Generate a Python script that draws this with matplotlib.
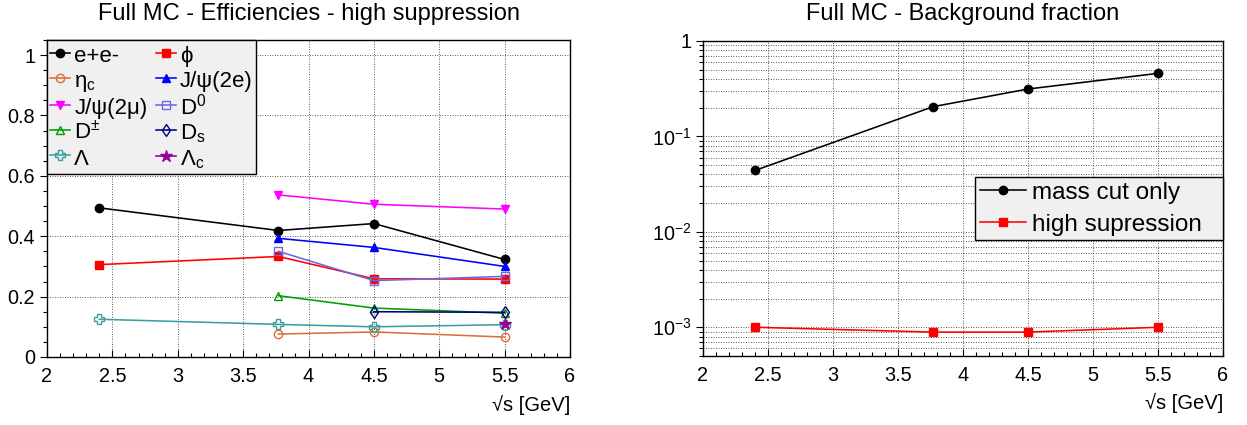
import math
import matplotlib
matplotlib.use("Agg")
import matplotlib.pyplot as plt
from matplotlib.ticker import (MultipleLocator, LogLocator, FuncFormatter,
                               NullFormatter)

plt.rcParams['font.family'] = ['Liberation Sans', 'DejaVu Sans']
plt.rcParams['mathtext.fontset'] = 'custom'
plt.rcParams['mathtext.rm'] = 'Liberation Sans'
plt.rcParams['mathtext.it'] = 'Liberation Sans:italic'
plt.rcParams['mathtext.sf'] = 'Liberation Sans'

# ---- efficiencies (high suppression) vs sqrt(s) ----
x_all = [2.4, 3.77, 4.5, 5.5]
x_charm = [3.77, 4.5, 5.5]
x_ds = [4.5, 5.5]
x_lc = [5.5]

eff_ee = [0.494, 0.419, 0.442, 0.323]
eff_phi = [0.306, 0.333, 0.259, 0.258]
eff_etac = [0.076, 0.083, 0.066]
eff_jpsi_ee = [0.393, 0.363, 0.300]
eff_jpsi_mumu = [0.537, 0.506, 0.490]
eff_d0 = [0.350, 0.253, 0.267]
eff_dpm = [0.203, 0.162, 0.145]
eff_ds = [0.150, 0.148]
eff_lambda = [0.125, 0.108, 0.100, 0.107]
eff_lambdac = [0.110]

# ---- background fraction vs sqrt(s) ----
bkg_masscut = [0.044, 0.205, 0.314, 0.458]
bkg_high = [1.0e-3, 0.89e-3, 0.89e-3, 1.0e-3]

W, H = 1247, 425
fig = plt.figure(figsize=(W / 100, H / 100), dpi=100)

ax1 = fig.add_axes([47 / W, (H - 357) / H, 523 / W, 317 / H])
ax2 = fig.add_axes([703 / W, (H - 356) / H, 520 / W, 315 / H])

LW = 1.15
TICK_FS = 14.3


def series(ax, x, y, color, marker, filled, ms=6.0, label=None):
    fc = color if filled else 'none'
    line, = ax.plot(x, y, color=color, lw=LW, marker=marker, ms=ms,
                    mfc=fc, mec=color, mew=1.0, label=label, zorder=3)
    return line


h_ee = series(ax1, x_all, eff_ee, 'black', 'o', True, label='e+e-')
h_phi = series(ax1, x_all, eff_phi, '#ff0000', 's', True, ms=5.8, label='ϕ')
h_etac = series(ax1, x_charm, eff_etac, '#dd6d3b', 'o', False,
                label=r'$\mathregular{η_{c}}$')
h_jee = series(ax1, x_charm, eff_jpsi_ee, '#0000ff', '^', True,
               label='J/ψ(2e)')
h_jmm = series(ax1, x_charm, eff_jpsi_mumu, '#ff00ff', 'v', True,
               label='J/ψ(2μ)')
h_d0 = series(ax1, x_charm, eff_d0, '#6b6be0', 's', False,
              label=r'$\mathregular{D^{0}}$')
h_dpm = series(ax1, x_charm, eff_dpm, '#00a000', '^', False,
               label=r'$\mathregular{D^{\pm}}$')
h_ds = series(ax1, x_ds, eff_ds, '#000080', 'd', False,
              label=r'$\mathregular{D_{s}}$')
h_lam = series(ax1, x_all, eff_lambda, '#3c9e9e', 'P', False, ms=6.5,
               label='Λ')
h_lamc = series(ax1, x_lc, eff_lambdac, '#990099', '*', True, ms=9,
                label=r'$\mathregular{Λ_{c}}$')

g_mass = series(ax2, x_all, bkg_masscut, 'black', 'o', True,
                label='mass cut only')
g_high = series(ax2, x_all, bkg_high, '#ff0000', 's', True, ms=5.8,
                label='high supression')

grid_kw = dict(color='#222222', lw=0.6, ls=(0, (1, 2)))

# left panel axes
ax1.set_xlim(2, 6)
ax1.set_ylim(0, 1.05)
ax1.xaxis.set_major_locator(MultipleLocator(0.5))
ax1.xaxis.set_minor_locator(MultipleLocator(0.1))
ax1.yaxis.set_major_locator(MultipleLocator(0.2))
ax1.yaxis.set_minor_locator(MultipleLocator(0.05))
fmt = FuncFormatter(lambda v, p: '%g' % round(v, 3))
ax1.xaxis.set_major_formatter(fmt)
ax1.yaxis.set_major_formatter(fmt)
ax1.grid(True, which='major', **grid_kw)
ax1.set_axisbelow(True)

# right panel axes
ax2.set_xlim(2, 6)
ax2.set_yscale('log')
ax2.set_ylim(5e-4, 1)
ax2.xaxis.set_major_locator(MultipleLocator(0.5))
ax2.xaxis.set_minor_locator(MultipleLocator(0.1))
ax2.xaxis.set_major_formatter(fmt)
ax2.yaxis.set_major_locator(LogLocator(base=10, numticks=10))
ax2.yaxis.set_minor_locator(LogLocator(base=10, subs=range(2, 10),
                                       numticks=50))
ax2.yaxis.set_minor_formatter(NullFormatter())


def logfmt(v, p):
    if abs(v - 1) < 1e-9:
        return '1'
    e = int(round(math.log10(v)))
    return r'$\mathregular{10^{%d}}$' % e


ax2.yaxis.set_major_formatter(FuncFormatter(logfmt))
ax2.grid(True, which='major', axis='x', **grid_kw)
ax2.grid(True, which='both', axis='y', **grid_kw)
ax2.set_axisbelow(True)

for ax in (ax1, ax2):
    for s in ax.spines.values():
        s.set_linewidth(1.0)
        s.set_color('black')
    ax.tick_params(axis='x', which='both', direction='in', top=False,
                   labelsize=TICK_FS, pad=7, width=0.8)
    ax.tick_params(axis='y', which='both', direction='out', right=False,
                   labelsize=TICK_FS, pad=3.5, width=0.8)
    ax.tick_params(which='major', length=5)
    ax.tick_params(which='minor', length=2.6)
    ax.text(1.0, -0.15, '√s [GeV]', transform=ax.transAxes, ha='right',
            va='center', fontsize=14.5)

leg_style = dict(frameon=True, fancybox=False, edgecolor='black',
                 facecolor='#f0f0f0', framealpha=1, borderaxespad=0,
                 mode='expand', loc='upper left')

# legends
leg_handles = [h_ee, h_etac, h_jmm, h_dpm, h_lam,
               h_phi, h_jee, h_d0, h_ds, h_lamc]
leg1 = ax1.legend(handles=leg_handles, ncol=2,
                  bbox_to_anchor=(0, 0.0, (256 - 47) / 523, 1.0),
                  fontsize=16, handlelength=0.9, handleheight=1.21,
                  handletextpad=0.18, columnspacing=0.5, labelspacing=0.05,
                  borderpad=0.15, **leg_style)
leg1.get_frame().set_linewidth(1.0)

leg2 = ax2.legend(handles=[g_mass, g_high],
                  bbox_to_anchor=((975 - 703) / 520, 0.0,
                                  (1223 - 975) / 520, (356 - 177) / 315),
                  fontsize=17.5, handlelength=1.9, handletextpad=0.25,
                  labelspacing=0.4, borderpad=0.2, **leg_style)
leg2.get_frame().set_linewidth(1.0)

# titles
fig.text((47 + 570) / 2 / W, 1 - 14 / H,
         'Full MC - Efficiencies - high suppression', ha='center',
         va='center', fontsize=17)
fig.text((703 + 1223) / 2 / W, 1 - 14 / H,
         'Full MC - Background fraction', ha='center', va='center',
         fontsize=17)

fig.savefig('out.png', dpi=100, facecolor='white')
